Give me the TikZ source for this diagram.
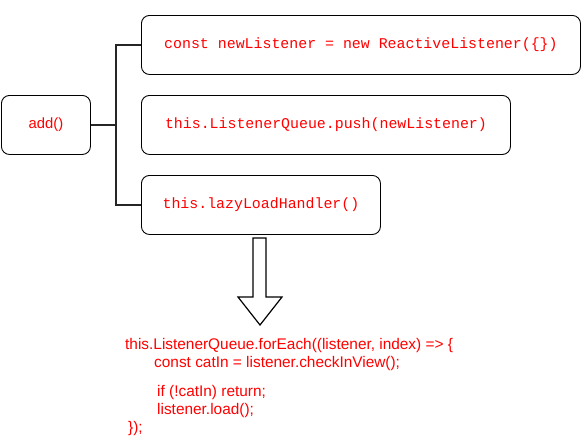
\documentclass[tikz,border=0pt]{standalone}
\usepackage{fontspec}
\setmainfont{Liberation Sans}
\newfontfamily\codefont{Liberation Mono}
\definecolor{codered}{RGB}{255,0,0}
\begin{document}
\begin{tikzpicture}[x=1pt,y=-1pt,
  box/.style={draw=black,line width=0.9pt,rounded corners=8pt,inner sep=0pt,anchor=north west},
  codetxt/.style={text=codered,font=\codefont\fontsize{14.9}{16}\selectfont},
  sanstxt/.style={text=codered,font=\fontsize{14.8}{16}\selectfont},
  conn/.style={draw=black!85,line width=1.6pt},
  line/.style={text=codered,font=\fontsize{15.4}{17}\selectfont,anchor=base west,inner sep=0pt}]
\useasboundingbox (0,0) rectangle (587,445);
\node[box,minimum width=89pt,minimum height=59pt,sanstxt] (add) at (1,95) {add()};
\node[box,minimum width=439pt,minimum height=59pt,codetxt] (b1) at (141,15) {const newListener = new ReactiveListener(\{\})};
\node[box,minimum width=369pt,minimum height=59pt,codetxt] (b2) at (141,95) {this.ListenerQueue.push(newListener)};
\node[box,minimum width=239pt,minimum height=59pt,codetxt] (b3) at (141,175) {this.lazyLoadHandler()};
\coordinate (jn) at (116,125);
\draw[conn] (add.east) -- (jn);
\draw[conn] (jn) |- (b1.west);
\draw[conn] (jn) |- (b3.west);
\draw[black,line width=1.2pt,line join=miter,fill=white]
  (253,238) -- (266,238) -- (266,297) -- (282,297) -- (260,325) -- (238,297) -- (253,297) -- cycle;
\node[line] (l1) at (125,349) {this.ListenerQueue.forEach((listener, index) => \{};
\node[line] (l2) at (154,367) {const catIn = listener.checkInView();};
\node[line] (l3) at (157,396) {if (!catIn) return;};
\node[line] (l4) at (157,414) {listener.load();};
\node[line] (l5) at (128,432) {\});};
\end{tikzpicture}
\end{document}
